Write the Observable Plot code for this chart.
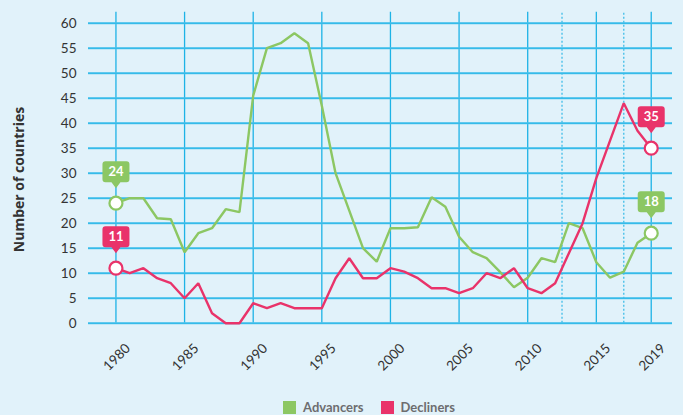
<!DOCTYPE html>
<html>
<head>
<meta charset="utf-8">
<script src="https://cdn.jsdelivr.net/npm/d3@7"></script>
<script src="https://cdn.jsdelivr.net/npm/@observablehq/plot@0.6"></script>
<style>
  html, body { margin: 0; padding: 0; background: #e1f2fa; }
  body { width: 683px; height: 415px; position: relative; overflow: hidden; font-family: Lato, "Open Sans", sans-serif; }
  #chart svg { display: block; background: transparent; }
  #legend { position: absolute; top: 399px; left: 283px; display: flex; align-items: center; font-family: Lato, sans-serif; font-weight: bold; font-size: 13px; color: #6d6d6f; }
  #legend .sw { width: 13px; height: 13px; display: inline-block; margin-right: 7px; }
  #legend .item { display: flex; align-items: center; margin-right: 17px; }
</style>
</head>
<body>
<div id="chart"></div>
<div id="legend"></div>
<script>
// ---- data ----
const years = [1980,1981,1982,1983,1984,1985,1986,1987,1988,1989,1990,1991,1992,1993,1994,1995,1996,1997,1998,1999,
               2000,2001,2002,2003,2004,2005,2006,2007,2008,2009,2010,2011,2012,2013,2014,2015,2016,2017,2018,2019];
const advancers = [24,25,25,21,20.8,14.2,18,19,22.8,22.2,45.5,55,56,58,56,43.5,30,22.5,15,12.3,
                   19,19,19.2,25.2,23.3,17.3,14.2,13,10.2,7.2,9.1,13,12.2,20,19,12.2,9.1,10.3,16.1,18];
const decliners = [11,10,11,9,8,5,8,2,0,0,4,3,4,3,3,3,9,13,9,9,
                   11,10.3,9,7,7,6,7,10,9,11,7,6,8,14,20,29,36.5,44,38.5,35];
const seriesNames = ["Advancers", "Decliners"];
const seriesColors = ["#8cc763", "#e9336a"];
const xTicks = [1980,1985,1990,1995,2000,2005,2010,2015,2019];
const yTicks = [0,5,10,15,20,25,30,35,40,45,50,55,60];
const dottedYears = [2012.5, 2017];
const calloutYears = [1980, 2019];
const yTitle = "Number of countries";

// ---- build tables ----
const rows = [];
years.forEach((yr, i) => {
  rows.push({year: yr, value: advancers[i], series: seriesNames[0]});
  rows.push({year: yr, value: decliners[i], series: seriesNames[1]});
});
const callouts = rows.filter(d => calloutYears.includes(d.year));
const colorOf = s => seriesColors[seriesNames.indexOf(s)];

const calloutSymbol = {
  draw(ctx) {
    const w = 27, h = 21, r = 3, bottom = -21, tip = -15, pw = 4.5;
    const top = bottom - h, left = -w / 2, right = w / 2;
    ctx.moveTo(left + r, top);
    ctx.lineTo(right - r, top);
    ctx.arcTo(right, top, right, top + r, r);
    ctx.lineTo(right, bottom - r);
    ctx.arcTo(right, bottom, right - r, bottom, r);
    ctx.lineTo(pw, bottom);
    ctx.lineTo(0, tip);
    ctx.lineTo(-pw, bottom);
    ctx.lineTo(left + r, bottom);
    ctx.arcTo(left, bottom, left, bottom - r, r);
    ctx.lineTo(left, top + r);
    ctx.arcTo(left, top, left + r, top, r);
    ctx.closePath();
  }
};

const gridColor = "#1db3e6";
const hGridColor = "#55c6ee";
const textColor = "#333333";

const chart = Plot.plot({
  width: 683,
  height: 395,
  marginLeft: 88,
  marginRight: 11,
  marginTop: 22.7,
  marginBottom: 72.3,
  style: {background: "transparent", fontFamily: "Lato, 'Open Sans', sans-serif"},
  x: {domain: [1978.0, 2020.55], axis: null},
  y: {domain: [0, 60], axis: null},
  marks: [
    Plot.ruleX(xTicks, {x: d => d, y1: 0, y2: 62.2, stroke: gridColor, strokeWidth: 1.3, clip: false}),
    Plot.ruleX(dottedYears, {x: d => d, y1: 0, y2: 62.2, stroke: "#3fbde9", strokeWidth: 1.3, strokeDasharray: "2,2"}),
    Plot.ruleY(yTicks, {y: d => d, stroke: hGridColor, strokeWidth: 2}),
    Plot.ruleY(yTicks, {y: d => d, stroke: gridColor, strokeWidth: 0.8}),
    Plot.axisY({ticks: yTicks, tickSize: 0, tickPadding: 12, fontSize: 13.5, color: textColor, label: null}),
    Plot.text(xTicks, {x: d => d, y: 0, text: d => String(d), rotate: -45, textAnchor: "end", dx: 12, dy: 23, fontSize: 13.5, fill: textColor}),
    Plot.text([yTitle], {frameAnchor: "left", textAnchor: "middle", text: d => d, rotate: -90, dx: -69, dy: 6.3, fontSize: 14, fontWeight: "bold", fill: textColor, fontFamily: "'Open Sans', sans-serif"}),
    Plot.line(rows, {x: "year", y: "value", z: "series", stroke: d => colorOf(d.series), strokeWidth: 2.4, strokeLinejoin: "miter"}),
    Plot.dot(callouts, {x: "year", y: "value", r: 6.5, fill: "white", stroke: d => colorOf(d.series), strokeWidth: 2.2}),
    Plot.dot(callouts, {x: "year", y: "value", symbol: calloutSymbol, r: 5, fill: d => colorOf(d.series), stroke: "none"}),
    Plot.text(callouts, {x: "year", y: "value", text: d => String(Math.round(d.value)), dy: -31.5, fill: "white", fontWeight: "bold", fontSize: 13})
  ]
});
document.getElementById("chart").appendChild(chart);

const legend = document.getElementById("legend");
seriesNames.forEach((s, i) => {
  const item = document.createElement("div");
  item.className = "item";
  const sw = document.createElement("span");
  sw.className = "sw";
  sw.style.background = seriesColors[i];
  const t = document.createElement("span");
  t.textContent = s;
  item.appendChild(sw);
  item.appendChild(t);
  legend.appendChild(item);
});
</script>
</body>
</html>
